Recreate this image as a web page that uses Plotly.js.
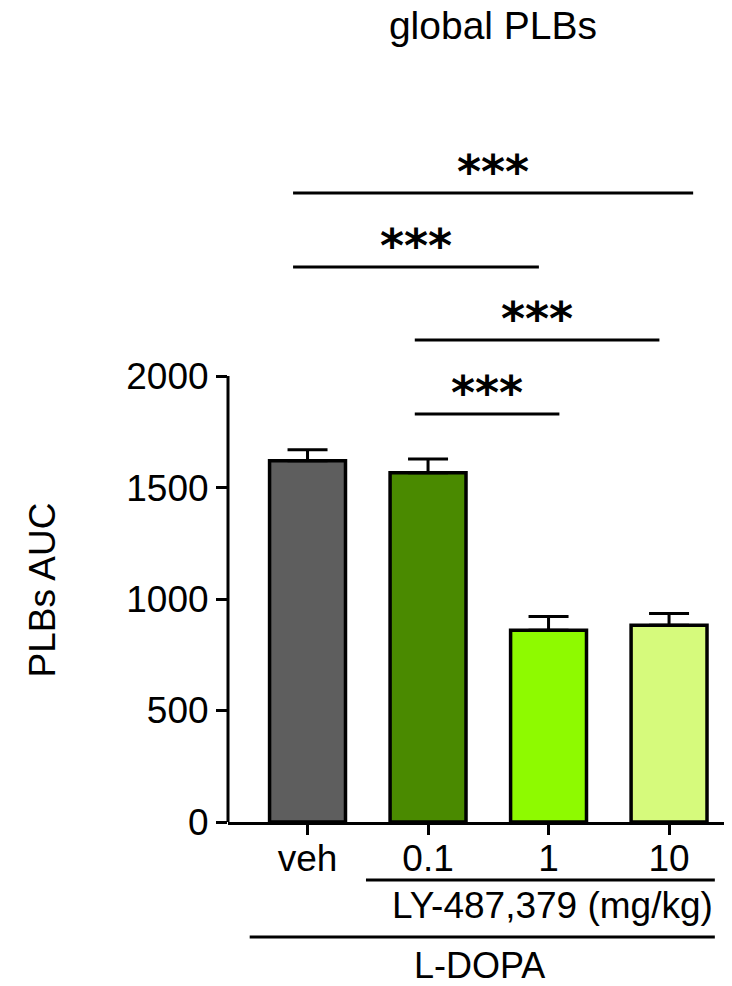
<!DOCTYPE html>
<html>
<head>
<meta charset="utf-8">
<script src="https://cdn.plot.ly/plotly-3.0.1.min.js"></script>
<style>
  html, body { margin: 0; padding: 0; background: #ffffff; }
  #chart { width: 732px; height: 986px; }
</style>
</head>
<body>
<div id="chart"></div>
<script>
// ---- data ----
const categories = ['veh', '0.1', '1', '10'];
const meanAUC = [1620, 1566, 860, 883];
const semAUC = [50, 62, 62, 52];
const barColors = ['#5e5e5e', '#4a8a00', '#8efa00', '#d6fa7c'];
const yTickVals = [0, 500, 1000, 1500, 2000];
const yTickText = ['0', '500', '1000', '1500', '2000'];
const sigLabels = ['***', '***', '***', '***'];
const sigFrom = [-0.12, -0.12, 0.89, 0.89];
const sigTo = [3.2, 1.92, 2.92, 2.09];
const sigLevel = [2821, 2489, 2162, 1830];
const titleText = 'global PLBs';
const yTitleText = 'PLBs AUC';
const drugLabel = 'LY-487,379 (mg/kg)';
const baseLabel = 'L-DOPA';

// ---- layout constants ----
const Y_MAX = 3400;
const FONT = 'Liberation Sans, Arial, Helvetica, sans-serif';
const yp = v => v / Y_MAX;   // data value -> paper fraction (y range starts at 0)

const trace = {
  type: 'bar',
  x: categories,
  y: meanAUC,
  marker: { color: barColors, line: { color: '#000000', width: 3.5 } },
  error_y: {
    type: 'data', symmetric: false, array: semAUC,
    arrayminus: semAUC.map(() => 0),
    color: '#000000', thickness: 3, width: 20
  },
  hoverinfo: 'skip'
};

const shapes = [];
const annotations = [];

// y axis line only from 0 to 2000
shapes.push({
  type: 'line', xref: 'paper', yref: 'y', x0: 0, x1: 0,
  y0: 0, y1: yTickVals[yTickVals.length - 1],
  line: { color: '#000', width: 3 }
});

// significance brackets
for (let i = 0; i < sigLabels.length; i++) {
  shapes.push({
    type: 'line', xref: 'x', yref: 'y',
    x0: sigFrom[i], x1: sigTo[i], y0: sigLevel[i], y1: sigLevel[i],
    line: { color: '#000', width: 3 }
  });
  annotations.push({
    xref: 'x', yref: 'y', x: (sigFrom[i] + sigTo[i]) / 2, y: sigLevel[i],
    yshift: 21, yanchor: 'middle', xanchor: 'center', showarrow: false,
    text: sigLabels[i],
    font: { family: 'DejaVu Sans, sans-serif', size: 46, weight: 'bold', color: '#000' }
  });
}

// group lines under the axis
const grpLineV = [-260, -516];
const grpFrom = [0.485, -0.48];
const grpTo = [3.38, 3.38];
for (let i = 0; i < 2; i++) {
  shapes.push({
    type: 'line', xref: 'x', yref: 'paper',
    x0: grpFrom[i], x1: grpTo[i], y0: yp(grpLineV[i]), y1: yp(grpLineV[i]),
    line: { color: '#000', width: 3 }
  });
}
annotations.push({
  xref: 'x', yref: 'paper', x: 2.03, y: yp(-375), xanchor: 'center', yanchor: 'middle',
  showarrow: false, text: drugLabel, font: { family: FONT, size: 37, color: '#000' }
});
annotations.push({
  xref: 'x', yref: 'paper', x: 1.43, y: yp(-645), xanchor: 'center', yanchor: 'middle',
  showarrow: false, borderpad: 0, text: baseLabel, font: { family: FONT, size: 36, color: '#000' }
});
// y axis title
annotations.push({
  xref: 'paper', yref: 'paper', x: -0.374, y: yp(1041), xanchor: 'center', yanchor: 'middle',
  textangle: -90, showarrow: false, text: yTitleText,
  font: { family: FONT, size: 37, color: '#000' }
});

const layout = {
  width: 732, height: 986,
  margin: { l: 228, r: 8, t: 64, b: 164 },
  paper_bgcolor: '#ffffff', plot_bgcolor: '#ffffff',
  showlegend: false,
  bargap: 0.37,
  font: { family: FONT, size: 36, color: '#000' },
  title: {
    text: titleText, xref: 'container', yref: 'container',
    x: 0.6735, xanchor: 'center', y: 0.974, yanchor: 'middle',
    font: { family: FONT, size: 39, color: '#000' }
  },
  xaxis: {
    type: 'category', range: [-0.66, 3.456],
    showline: true, linecolor: '#000', linewidth: 3,
    ticks: 'outside', ticklen: 10, tickwidth: 3, tickcolor: '#000',
    ticklabelstandoff: -8,
    showgrid: false, zeroline: false, fixedrange: true,
    tickfont: { family: FONT, size: 37, color: '#000' }
  },
  yaxis: {
    range: [0, Y_MAX], autorange: false,
    tickvals: yTickVals, ticktext: yTickText,
    showline: false, ticks: 'outside', ticklen: 11, tickwidth: 3, tickcolor: '#000',
    showgrid: false, zeroline: false, fixedrange: true,
    tickfont: { family: FONT, size: 37, color: '#000' }
  },
  shapes: shapes,
  annotations: annotations
};

Plotly.newPlot('chart', [trace], layout, { staticPlot: true, displayModeBar: false });
</script>
</body>
</html>
